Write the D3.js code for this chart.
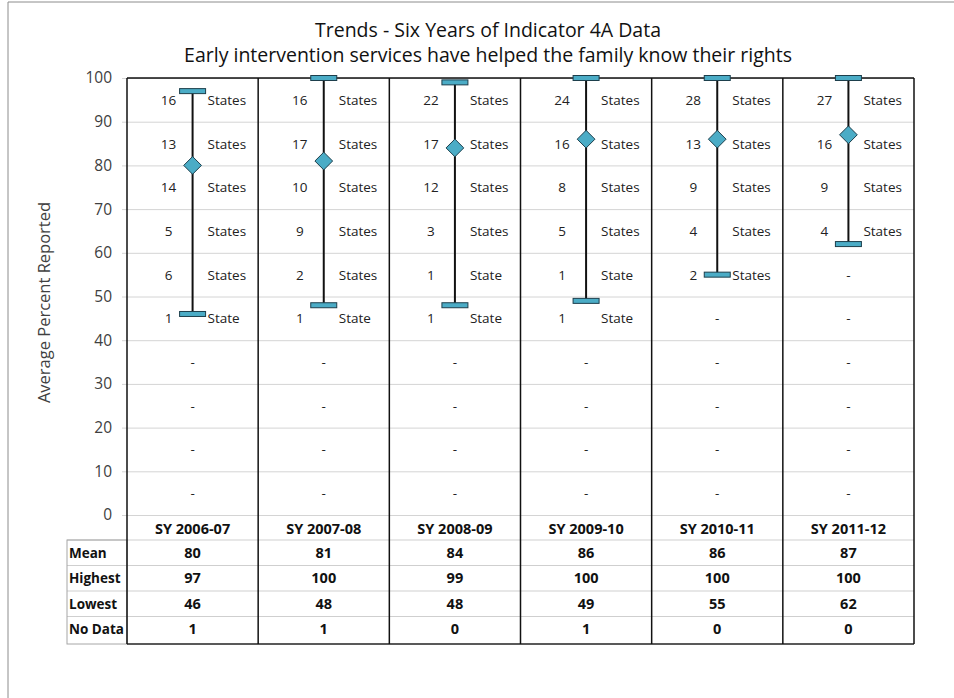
<!DOCTYPE html>
<html>
<head>
<meta charset="utf-8">
<script src="https://cdn.jsdelivr.net/npm/d3@7"></script>
<style>
  body { margin: 0; background: #fff; }
  svg { display: block; font-family: 'Open Sans', sans-serif; }
</style>
</head>
<body>
<div id="chart"></div>
<script>
// school years and summary rows
const years = ['SY 2006-07', 'SY 2007-08', 'SY 2008-09', 'SY 2009-10', 'SY 2010-11', 'SY 2011-12']
const means = [80, 81, 84, 86, 86, 87]
const highs = [97, 100, 99, 100, 100, 100]
const lows = [46, 48, 48, 49, 55, 62]
const noData = [1, 1, 0, 1, 0, 0]
const yTicks = [0, 10, 20, 30, 40, 50, 60, 70, 80, 90, 100]

// number of states in each 10-point band, from 90-100 downwards
const bandMids = [95, 85, 75, 65, 55, 45, 35, 25, 15, 5]
const stateCounts = [
  [16, 13, 14, 5, 6, 1],
  [16, 17, 10, 9, 2, 1],
  [22, 17, 12, 3, 1, 1],
  [24, 16, 8, 5, 1, 1],
  [28, 13, 9, 4, 2],
  [27, 16, 9, 4]
]

const rowLabels = ['Mean', 'Highest', 'Lowest', 'No Data']
const rowValues = [means, highs, lows, noData]

const W = 954
const H = 698
const plot = { left: 127, right: 914, top: 78, bottom: 515 }
const tableTop = 540
const rowH = 25.5
const labelLeft = 67

const svg = d3
  .select('#chart')
  .append('svg')
  .attr('width', W)
  .attr('height', H)

// outer frame
svg.append('path')
  .attr('d', `M8,${H} L8,2 L${W},2`)
  .attr('fill', 'none')
  .attr('stroke', '#8c8c8c')
  .attr('stroke-width', 1)

const x = d3.scaleBand().domain(years).range([plot.left, plot.right])
const y = d3.scaleLinear().domain([0, 100]).range([plot.bottom, plot.top])

// titles
svg.append('text')
  .attr('x', 488).attr('y', 37)
  .attr('text-anchor', 'middle')
  .attr('font-size', 19.5)
  .attr('fill', '#111')
  .text('Trends - Six Years of Indicator 4A Data')
svg.append('text')
  .attr('x', 488).attr('y', 62)
  .attr('text-anchor', 'middle')
  .attr('font-size', 19.5)
  .attr('fill', '#111')
  .text('Early intervention services have helped the family know their rights')

// y axis with gridlines
const yAxis = d3.axisLeft(y)
  .tickValues(yTicks)
  .tickSize(-(plot.right - plot.left))
  .tickPadding(15)
svg.append('g')
  .attr('class', 'y-axis')
  .attr('transform', `translate(${plot.left},0)`)
  .call(yAxis)
  .call(g => g.select('.domain').remove())
  .call(g => g.selectAll('.tick line').attr('stroke', '#d4d4d4').attr('x1', -5))
  .call(g => g.selectAll('.tick text')
    .attr('font-size', 15.5)
    .attr('font-family', 'Open Sans, sans-serif')
    .attr('fill', '#404040'))

svg.append('text')
  .attr('transform', `translate(50,${(plot.top + plot.bottom) / 2 + 6}) rotate(-90)`)
  .attr('text-anchor', 'middle')
  .attr('font-size', 16.5)
  .attr('fill', '#404040')
  .text('Average Percent Reported')

// table horizontal lines (light)
const tableLines = d3.range(rowLabels.length).map(i => tableTop + i * rowH)
svg.append('g')
  .selectAll('line')
  .data(tableLines)
  .join('line')
  .attr('x1', labelLeft).attr('x2', plot.right)
  .attr('y1', d => d).attr('y2', d => d)
  .attr('stroke', '#cfcfcf')

// label column border
const tableBottom = tableTop + rowLabels.length * rowH + 2
svg.append('rect')
  .attr('x', labelLeft).attr('y', tableTop)
  .attr('width', plot.left - labelLeft).attr('height', tableBottom - tableTop)
  .attr('fill', 'none')
  .attr('stroke', '#a6a6a6')

// plot + table outline and column separators
svg.append('line')
  .attr('x1', plot.left).attr('x2', plot.right)
  .attr('y1', plot.top).attr('y2', plot.top)
  .attr('stroke', '#111').attr('stroke-width', 1.5)
svg.append('line')
  .attr('x1', plot.left).attr('x2', plot.right)
  .attr('y1', tableBottom).attr('y2', tableBottom)
  .attr('stroke', '#222').attr('stroke-width', 1.5)
const seps = years.map(d => x(d)).concat([plot.right])
svg.append('g')
  .selectAll('line')
  .data(seps)
  .join('line')
  .attr('x1', d => d).attr('x2', d => d)
  .attr('y1', plot.top).attr('y2', tableBottom)
  .attr('stroke', '#111')
  .attr('stroke-width', 1.5)

// column headers
svg.append('g')
  .selectAll('text')
  .data(years)
  .join('text')
  .attr('x', d => x(d) + x.bandwidth() / 2)
  .attr('y', plot.bottom + 19)
  .attr('text-anchor', 'middle')
  .attr('font-size', 14.5)
  .attr('font-weight', 'bold')
  .attr('fill', '#111')
  .text(d => d)

// table rows
rowLabels.forEach((label, i) => {
  const cy = tableTop + i * rowH + rowH / 2 + 5
  svg.append('text')
    .attr('x', labelLeft + 2).attr('y', cy)
    .attr('font-size', 13.5)
    .attr('font-weight', 'bold')
    .attr('fill', '#111')
    .text(label)
  svg.append('g')
    .selectAll('text')
    .data(rowValues[i])
    .join('text')
    .attr('x', (d, j) => x(years[j]) + x.bandwidth() / 2)
    .attr('y', cy)
    .attr('text-anchor', 'middle')
    .attr('font-size', 14.5)
    .attr('font-weight', 'bold')
    .attr('fill', '#111')
    .text(d => d)
})

// state count labels in each band
years.forEach((yr, j) => {
  const cx = x(yr) + x.bandwidth() / 2
  const g = svg.append('g').attr('font-size', 13.5).attr('fill', '#222')
  bandMids.forEach((m, k) => {
    const n = stateCounts[j][k]
    if (n === undefined) {
      g.append('text')
        .attr('x', cx).attr('y', y(m) + 5)
        .attr('text-anchor', 'middle')
        .text('-')
    } else {
      g.append('text')
        .attr('x', cx - 24).attr('y', y(m) + 5)
        .attr('text-anchor', 'middle')
        .text(n)
      g.append('text')
        .attr('x', cx + 15).attr('y', y(m) + 5)
        .text(n === 1 ? 'State' : 'States')
    }
  })
})

// high-low bars with mean diamonds
const fill = '#4bacc6'
const edge = '#1d3f4c'
const bars = svg.append('g')
  .selectAll('g')
  .data(years)
  .join('g')
  .attr('transform', d => `translate(${x(d) + x.bandwidth() / 2},0)`)

bars.append('line')
  .attr('y1', (d, i) => y(highs[i]))
  .attr('y2', (d, i) => y(lows[i]))
  .attr('stroke', '#111')
  .attr('stroke-width', 2)

bars.selectAll('rect')
  .data((d, i) => [highs[i], lows[i]])
  .join('rect')
  .attr('x', -13)
  .attr('y', d => y(d) - 2.5)
  .attr('width', 26)
  .attr('height', 5)
  .attr('fill', fill)
  .attr('stroke', edge)
  .attr('stroke-width', 1)

bars.append('path')
  .attr('d', d3.symbol().type(d3.symbolDiamond2).size(200))
  .attr('transform', (d, i) => `translate(0,${y(means[i])})`)
  .attr('fill', fill)
  .attr('stroke', edge)
  .attr('stroke-width', 1)
</script>
</body>
</html>
